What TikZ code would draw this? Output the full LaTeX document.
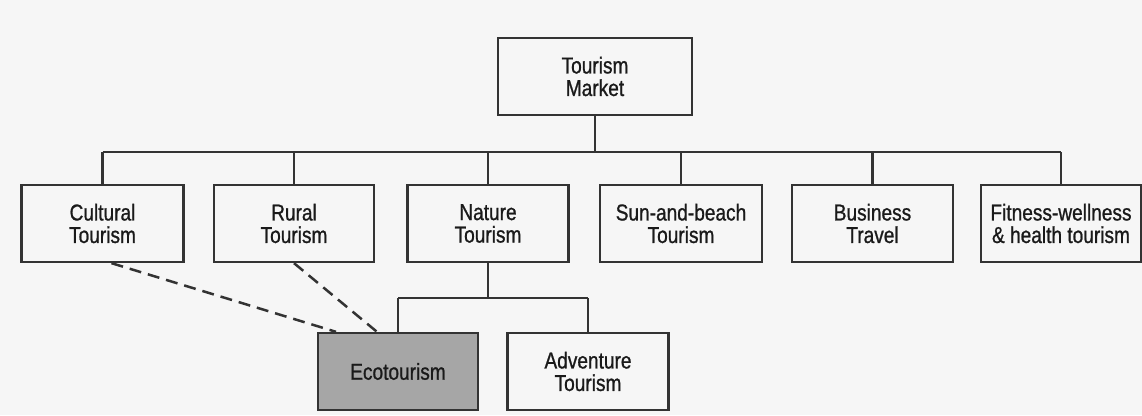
\documentclass[tikz,border=0pt]{standalone}
\usepackage{fontspec}
\setmainfont[FakeStretch=0.83,FakeBold=0.9]{Liberation Sans}
\definecolor{bgcol}{HTML}{F6F6F6}
\definecolor{linecol}{HTML}{333333}
\definecolor{txtcol}{HTML}{1A1A1A}
\definecolor{ecofill}{HTML}{A6A6A6}
\begin{document}
\begin{tikzpicture}[x=1pt,y=-1pt,
  box/.style={draw=linecol, line width=2.3pt, fill=bgcol, minimum height=77pt,
    inner sep=0pt, align=center, text=txtcol, font=\fontsize{23}{22.5}\selectfont},
  conn/.style={draw=linecol, line width=2.1pt},
  dashconn/.style={draw=linecol, line width=2.5pt, dash pattern=on 12pt off 7pt}]
\useasboundingbox (0,0) rectangle (1142,415);
\fill[bgcol] (0,0) rectangle (1142,415);

\node[box, minimum width=194pt] (tm) at (595,76.5) {Tourism\\Market};
\node[box, minimum width=162pt] (cult) at (102.5,223.5) {Cultural\\Tourism};
\node[box, minimum width=160pt] (rural) at (294,223.5) {Rural\\Tourism};
\node[box, minimum width=161pt] (nat) at (488,223.5) {Nature\\Tourism};
\node[box, minimum width=162pt] (sun) at (681,223.5) {Sun-and-beach\\Tourism};
\node[box, minimum width=161pt] (bus) at (872.5,223.5) {Business\\Travel};
\node[box, minimum width=160pt] (fit) at (1061,223.5) {Fitness-wellness\\\& health tourism};
\node[box, minimum width=160pt, fill=ecofill] (eco) at (398,371.5) {Ecotourism};
\node[box, minimum width=161pt] (adv) at (588,371.5) {Adventure\\Tourism};

% top tree
\path (tm.south) ++(0,36) coordinate (j);
\draw[conn] (tm.south) -- (j);
\draw[conn] (j -| cult.north) -- (j -| fit.north);
\foreach \n in {cult,rural,nat,sun,bus,fit}
  \draw[conn] (j -| \n.north) -- (\n.north);

% nature subtree
\path (nat.south) ++(0,35) coordinate (k);
\draw[conn] (nat.south) -- (k);
\draw[conn] (k -| eco.north) -- (k -| adv.north);
\draw[conn] (k -| eco.north) -- (eco.north);
\draw[conn] (k -| adv.north) -- (adv.north);

% dashed links
\draw[dashconn] ([xshift=9pt]cult.south) -- ([xshift=-62pt]eco.north);
\draw[dashconn] (rural.south) -- ([xshift=-21pt]eco.north);
\end{tikzpicture}
\end{document}
